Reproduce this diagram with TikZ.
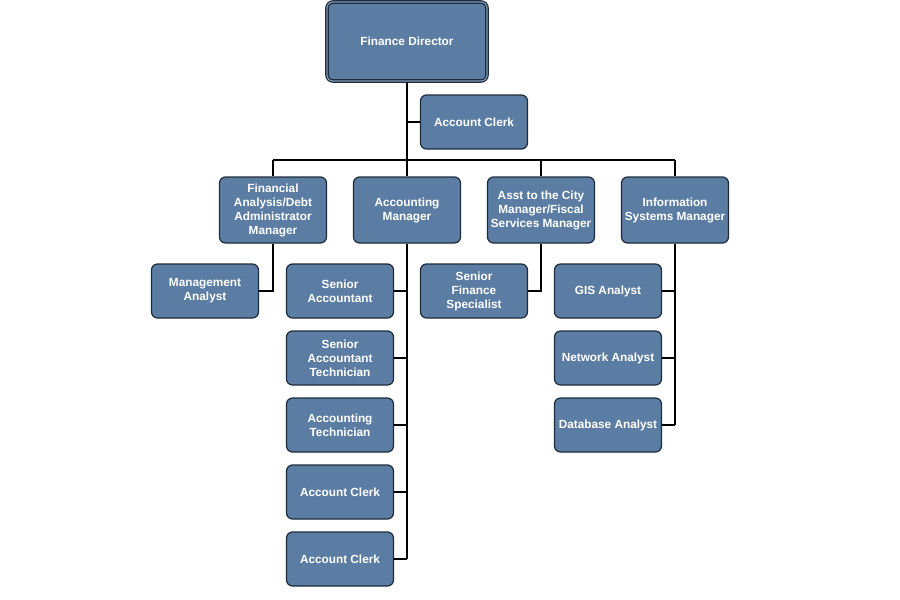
\documentclass[tikz,border=0pt]{standalone}
\usepackage{fontspec}
\setmainfont{Liberation Sans}
\begin{document}
\begin{tikzpicture}[x=1pt,y=-1pt,
  box/.style={draw=boxline, line width=1.2pt, fill=boxfill, rounded corners=6pt,
    text=white, font=\fontsize{11.8}{14}\selectfont\bfseries, align=center,
    minimum width=107pt, minimum height=54pt, inner sep=1pt},
  midbox/.style={box, minimum height=66pt},
  link/.style={draw=black, line width=1.3pt}]
\definecolor{boxfill}{HTML}{5B7DA3}
\definecolor{boxline}{HTML}{1E2B3A}
\useasboundingbox (0,0) rectangle (900,600);
% top
\node[box, minimum width=160pt, minimum height=79pt, double=boxfill!80!white, double distance=1.2pt] (fd) at (407,41.5) {Finance Director};
\node[box] (ac0) at (474,122) {Account Clerk};
% level 2
\node[midbox] (fa) at (273,210) {Financial\\Analysis/Debt\\Administrator\\Manager};
\node[midbox] (am) at (407,210) {Accounting\\Manager};
\node[midbox] (asst) at (541,210) {Asst to the City\\Manager/Fiscal\\Services Manager};
\node[midbox] (is) at (675,210) {Information\\Systems Manager};
% level 3
\node[box] (ma) at (205,291) {Management\\Analyst};
\node[box] (sa) at (340,291) {Senior\\Accountant};
\node[box] (sat) at (340,358) {Senior\\Accountant\\Technician};
\node[box] (at) at (340,425) {Accounting\\Technician};
\node[box] (ac1) at (340,492) {Account Clerk};
\node[box] (ac2) at (340,559) {Account Clerk};
\node[box] (sfs) at (474,291) {Senior\\Finance\\Specialist};
\node[box] (gis) at (608,291) {GIS Analyst};
\node[box] (na) at (608,358) {Network Analyst};
\node[box] (da) at (608,425) {Database Analyst};
% connectors
\coordinate (busL) at (273,160);
\coordinate (busR) at (675,160);
\draw[link] (fd.south) -- (am.north);
\draw[link] (fd.south |- ac0.west) -- (ac0.west);
\draw[link] (busL) -- (busR);
\draw[link] (busL) -- (fa.north);
\draw[link] (asst.north |- busL) -- (asst.north);
\draw[link] (busR) -- (is.north);
\draw[link] (fa.south) |- (ma.east);
\draw[link] (am.south) -- (am.south |- ac2.east);
\foreach \n in {sa,sat,at,ac1,ac2} \draw[link] (am.south |- \n.east) -- (\n.east);
\draw[link] (asst.south) |- (sfs.east);
\draw[link] (is.south) -- (is.south |- da.east);
\foreach \n in {gis,na,da} \draw[link] (is.south |- \n.east) -- (\n.east);
\end{tikzpicture}
\end{document}
